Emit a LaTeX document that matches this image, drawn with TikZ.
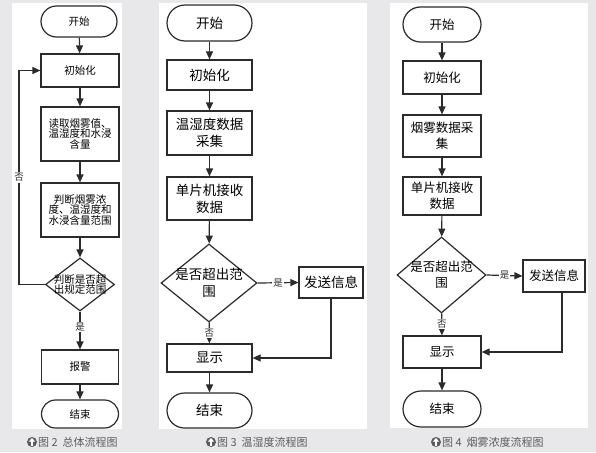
\documentclass[tikz,border=0pt]{standalone}
\usepackage{fontspec}
\newfontfamily\cjk{Noto Sans CJK SC}
\usetikzlibrary{positioning,shapes.geometric,arrows.meta,calc}
\definecolor{bggray}{HTML}{E8E8EA}
\definecolor{linegray}{HTML}{2B2B2B}
\definecolor{capgray}{HTML}{5C5C5C}

\begin{document}
\begin{tikzpicture}[
    x=1pt, y=-1pt,
    font=\cjk,
    panel/.style={fill=white, draw=none},
    term/.style={draw=linegray, line width=1.2pt, fill=white, rounded corners=#1, inner sep=0pt, align=center},
    term/.default=15pt,
    proc/.style={draw=linegray, line width=1.2pt, fill=white, inner sep=0pt, align=center},
    dia/.style={diamond, draw=linegray, line width=1.2pt, fill=white, inner sep=0pt},
    txtA/.style={font=\cjk\fontsize{10.5}{10.8}\selectfont},
    txtB/.style={font=\cjk\fontsize{13.5}{17}\selectfont},
    txtC/.style={font=\cjk\fontsize{12.5}{16}\selectfont},
    diatxt/.style={align=center, inner sep=0pt},
    arr/.style={-{Triangle[length=8pt,width=7pt]}, draw=linegray, line width=1.2pt},
    lbl/.style={fill=white, inner sep=1pt, text=linegray, font=\cjk\fontsize{9.5}{10}\selectfont},
    captxt/.style={anchor=west, inner sep=0pt, text=capgray, font=\cjk\fontsize{11}{12}\selectfont},
    icon/.style={circle, fill=capgray, minimum size=10pt, inner sep=0pt},
]
\useasboundingbox (0,0) rectangle (596,452);
\fill[bggray] (0,0) rectangle (596,452);
\fill[panel] (12,3) rectangle (122,429);
\fill[panel] (159,3) rectangle (367,429);
\fill[panel] (390,3) rectangle (588,428);

% overall flow
\node[term=15.5pt, txtA, minimum width=76, minimum height=31] (p1start) at (79,21.5) {开始};
\node[proc, txtA, minimum width=78, minimum height=33] (p1init) at (80,70.5) {初始化};
\node[proc, txtA, minimum width=78, minimum height=54] (p1read) at (80,134) {读取烟雾值、\\温湿度和水浸\\含量};
\node[proc, txtA, minimum width=78, minimum height=54] (p1judge) at (80,210) {判断烟雾浓\\度、温湿度和\\水浸含量范围};
\node[dia, minimum width=69, minimum height=53] (p1dia) at (80,284.5) {};
\node[diatxt, txtA] (p1diatxt) at (p1dia) {判断是否超\\出规定范围};
\node[proc, txtA, minimum width=77, minimum height=34] (p1alarm) at (80,367) {报警};
\node[term=14pt, txtA, minimum width=77, minimum height=28] (p1end) at (80,414) {结束};
\coordinate (p1back) at (19,0);
\draw[arr] (p1start) -- (p1init);
\draw[arr] (p1init) -- (p1read);
\draw[arr] (p1read) -- (p1judge);
\draw[arr] (p1judge) -- (p1dia);
\draw[arr] (p1dia.west) -- (p1dia.west -| p1back) -- node[lbl] {否} (p1init.west -| p1back) -- (p1init.west);
\draw[arr] (p1dia) -- node[lbl, pos=0.4] {是} (p1alarm);
\draw[arr] (p1alarm) -- (p1end);

% temperature and humidity
\node[term=18pt, txtB, minimum width=85, minimum height=36] (p2start) at (209.5,23) {开始};
\node[proc, txtB, minimum width=85, minimum height=30] (p2init) at (209.5,75) {初始化};
\node[proc, txtB, minimum width=85, minimum height=44] (p2collect) at (209.5,133) {温湿度数据\\采集};
\node[proc, txtB, minimum width=85, minimum height=43] (p2recv) at (209.5,198.5) {单片机接收\\数据};
\node[dia, minimum width=96, minimum height=78] (p2dia) at (209,283) {};
\node[diatxt, txtB] (p2diatxt) at (p2dia) {是否超出范\\围};
\node[proc, txtB, minimum width=64, minimum height=31] (p2send) at (331,282.5) {发送信息};
\node[proc, txtB, minimum width=85, minimum height=28] (p2show) at (209.5,358) {显示};
\node[term=17.5pt, txtB, minimum width=85, minimum height=35] (p2end) at (209.5,410.5) {结束};
\draw[arr] (p2start) -- (p2init);
\draw[arr] (p2init) -- (p2collect);
\draw[arr] (p2collect) -- (p2recv);
\draw[arr] (p2recv) -- (p2dia);
\draw[arr] (p2dia.east) -- node[lbl] {是} (p2send.west);
\draw[arr] (p2dia) -- node[lbl] {否} (p2show);
\draw[arr] (p2send.south) |- (p2show.east);
\draw[arr] (p2show) -- (p2end);

% smoke
\node[term=17.5pt, txtC, minimum width=78, minimum height=35] (p3start) at (442,24.5) {开始};
\node[proc, txtC, minimum width=78, minimum height=33] (p3init) at (442,77.5) {初始化};
\node[proc, txtC, minimum width=78, minimum height=42] (p3collect) at (442,136) {烟雾数据采\\集};
\node[proc, txtC, minimum width=78, minimum height=38] (p3recv) at (442,196) {单片机接收\\数据};
\node[dia, minimum width=89, minimum height=76] (p3dia) at (441.5,275) {};
\node[diatxt, txtC] (p3diatxt) at (p3dia) {是否超出范\\围};
\node[proc, txtC, minimum width=62, minimum height=32] (p3send) at (554,276) {发送信息};
\node[proc, txtC, minimum width=78, minimum height=32] (p3show) at (442,352) {显示};
\node[term=18pt, txtC, minimum width=78, minimum height=36] (p3end) at (442,409) {结束};
\coordinate (p3drop) at ([xshift=8pt]p3send.south);
\draw[arr] (p3start) -- (p3init);
\draw[arr] (p3init) -- (p3collect);
\draw[arr] (p3collect) -- (p3recv);
\draw[arr] (p3recv) -- (p3dia);
\draw[arr] (p3dia.east) -- node[lbl] {是} (p3send.west);
\draw[arr] (p3dia) -- node[lbl] {否} (p3show);
\draw[arr] (p3drop) |- (p3show.east);
\draw[arr] (p3show) -- (p3end);

% captions
\foreach \nm/\cx/\txt in {c1/32/{图 2\ \ 总体流程图}, c2/211/{图 3\ \ 温湿度流程图}, c3/436/{图 4\ \ 烟雾浓度流程图}}{
  \node[icon] (\nm icon) at (\cx,442) {};
  \draw[white, line width=1.4pt, -{Triangle[length=3.5pt,width=6pt]}] ([yshift=-3.5pt]\nm icon.center) -- ([yshift=4pt]\nm icon.center);
  \node[captxt] (\nm text) at (\cx+6,442) {\txt};
}
\end{tikzpicture}
\end{document}
